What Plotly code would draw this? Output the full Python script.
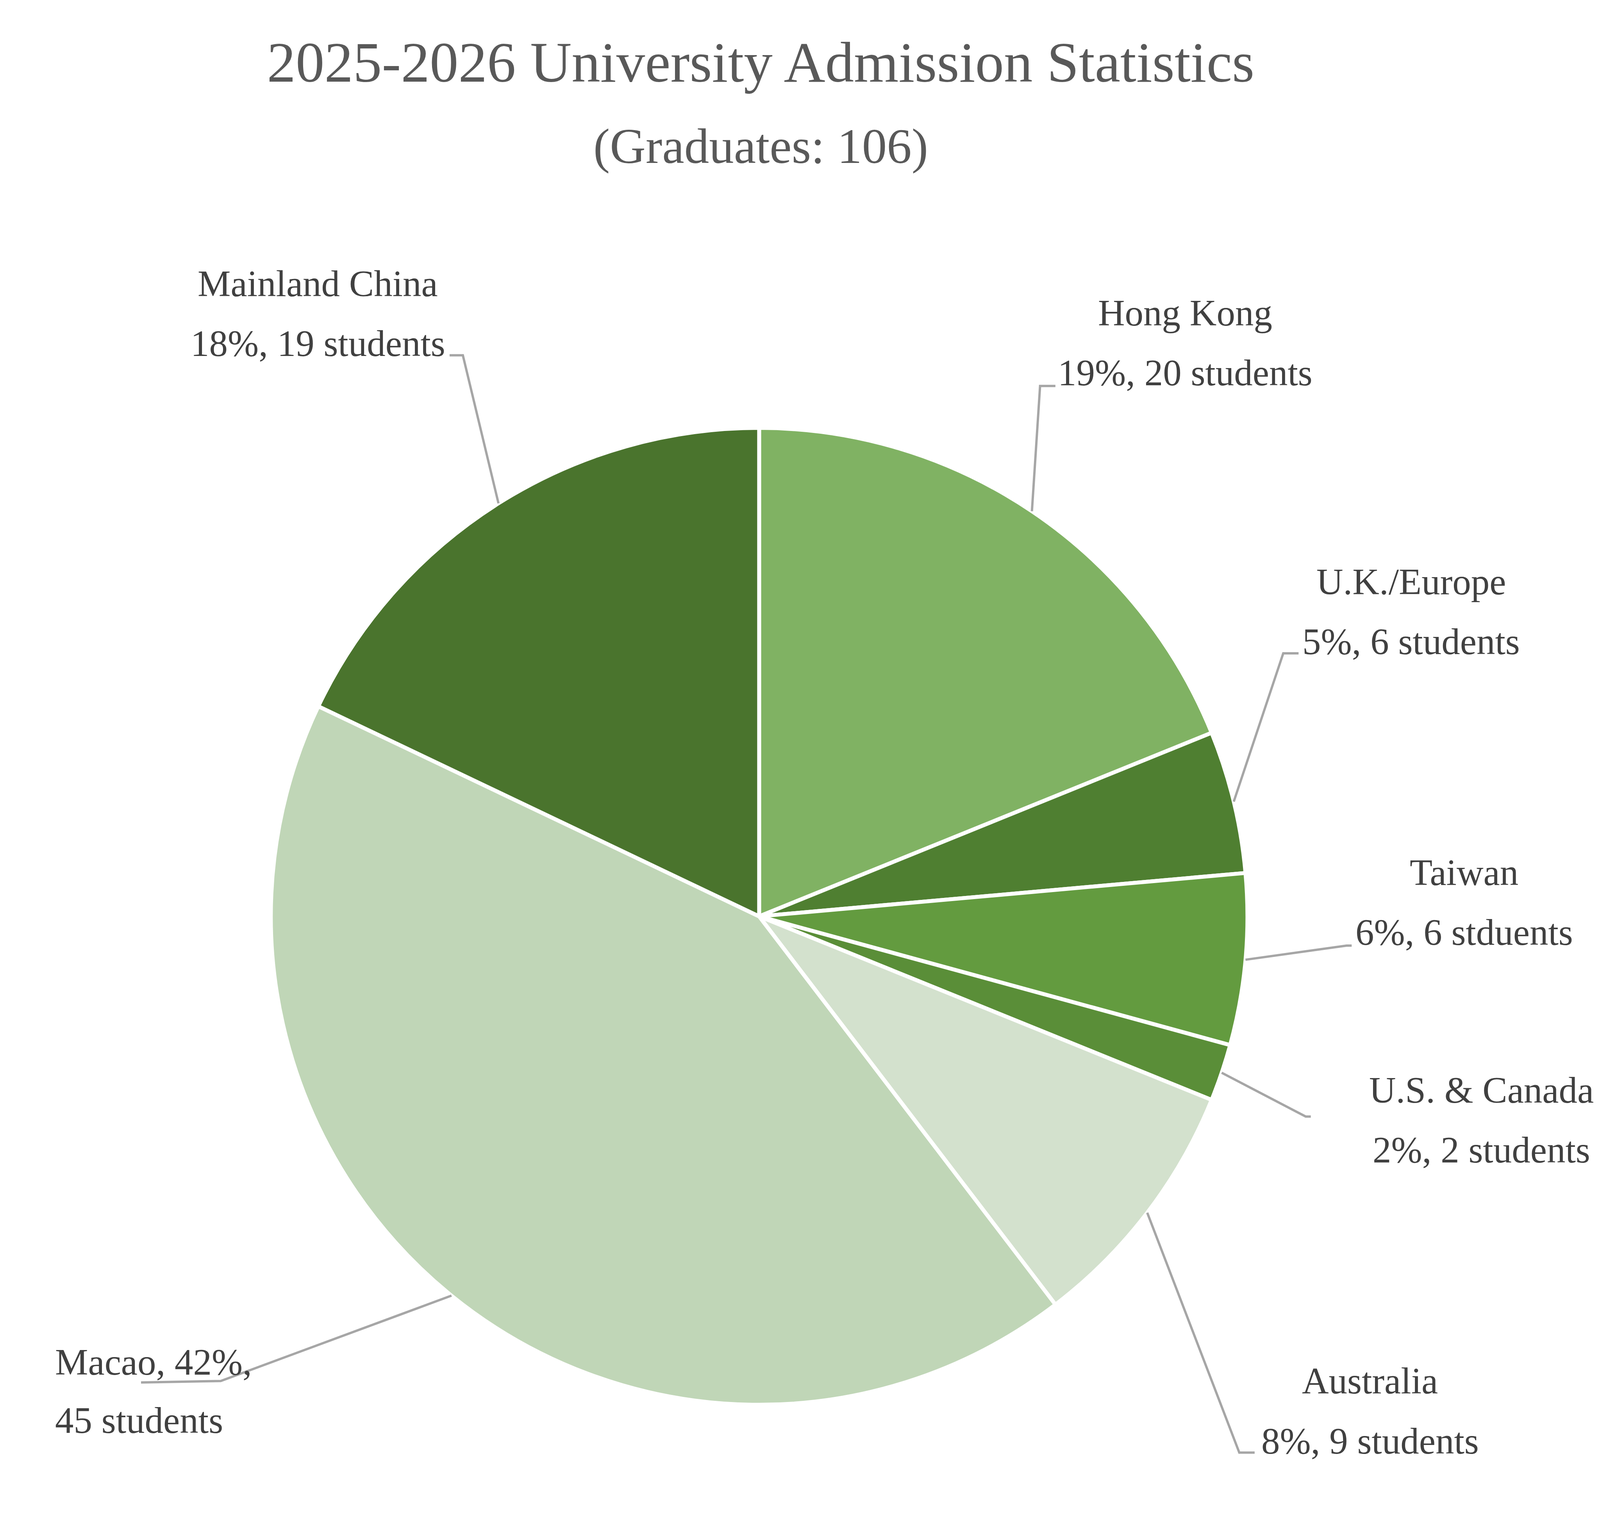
import math
import plotly.graph_objects as go

# slice data (clockwise from 12 o'clock)
regions = ["Hong Kong", "U.K./Europe", "Taiwan", "U.S. & Canada", "Australia", "Macao", "Mainland China"]
students = [20, 5, 6, 2, 9, 45, 19]
label_line1 = ["Hong Kong", "U.K./Europe", "Taiwan", "U.S. & Canada", "Australia", "Macao, 42%,", "Mainland China"]
label_line2 = ["19%, 20 students", "5%, 6 students", "6%, 6 stduents", "2%, 2 students",
               "8%, 9 students", "45 students", "18%, 19 students"]
colors = ["#80B263", "#4F7F31", "#639B3F", "#5A8E38", "#D3E1CD", "#C0D6B7", "#4A742D"]

title_text = "2025-2026 University Admission Statistics"
subtitle_text = "(Graduates: 106)"

# page size and reference frame (1560 x 1036 units)
W, H = 4080, 3874
RW, RH = 1560.0, 1036.0


def px(x):
    return x / RW


def py(y):
    return 1 - y / RH


CX, CY = 740, 625      # pie centre, reference units
R_PX = 1250            # pie radius, pixels

# label placement: centre x, y of line 1, y of line 2, anchor
label_pos = [
    (1157, 212, 253, "center"),
    (1378, 396, 437, "center"),
    (1430, 595, 636, "center"),
    (1447, 744, 785, "center"),
    (1338, 943, 984, "center"),
    (50, 930, 970, "left"),
    (308, 192, 233, "center"),
]
leader_pts = [
    [(1015, 262), (1030, 262)],
    [(1253, 445), (1268, 445)],
    [(1315, 645), (1320, 645)],
    [(1275, 762), (1280, 762)],
    [(1210, 992), (1225, 992)],
    [(213, 943), (135, 944)],
    [(450, 241), (437, 241)],
]

label_font = dict(family="Liberation Serif", size=95, color="#404040")

fig = go.Figure()
fig.add_trace(go.Pie(
    labels=regions,
    values=students,
    sort=False,
    direction="clockwise",
    rotation=0,
    textinfo="none",
    marker=dict(colors=colors, line=dict(color="white", width=10)),
    domain=dict(x=[px(CX) - R_PX / W, px(CX) + R_PX / W],
                y=[py(CY) - R_PX / H, py(CY) + R_PX / H]),
    showlegend=False,
))

total = sum(students)
cum = 0
shapes = []
annotations = []
for i, v in enumerate(students):
    mid = (cum + v / 2) / total * 2 * math.pi
    cum += v
    # point on the pie edge at the slice's middle angle
    tx = px(CX) + R_PX * math.sin(mid) / W
    ty = py(CY) + R_PX * math.cos(mid) / H
    pts = [(tx, ty)] + [(px(a), py(b)) for a, b in leader_pts[i]]
    path = "M " + " L ".join(f"{a:.5f},{b:.5f}" for a, b in pts)
    shapes.append(dict(type="path", path=path, xref="paper", yref="paper",
                       line=dict(color="#A6A6A6", width=6)))
    lx, ly1, ly2, anchor = label_pos[i]
    for txt, ly in ((label_line1[i], ly1), (label_line2[i], ly2)):
        annotations.append(dict(
            text=txt, x=px(lx), y=py(ly), xref="paper", yref="paper",
            xanchor=anchor, yanchor="middle", showarrow=False, font=label_font,
        ))

annotations.append(dict(
    text=subtitle_text, x=px(741.5), y=py(98), xref="paper", yref="paper",
    xanchor="center", yanchor="middle", showarrow=False,
    font=dict(family="Liberation Serif", size=127, color="#595959"),
))

fig.update_layout(
    width=W,
    height=H,
    margin=dict(l=0, r=0, t=0, b=0),
    paper_bgcolor="white",
    plot_bgcolor="white",
    title=dict(text=title_text, x=px(741.5), y=py(40), xanchor="center", yanchor="middle",
               font=dict(family="Liberation Serif", size=147, color="#595959")),
    shapes=shapes,
    annotations=annotations,
)

fig.write_html("out.html")
